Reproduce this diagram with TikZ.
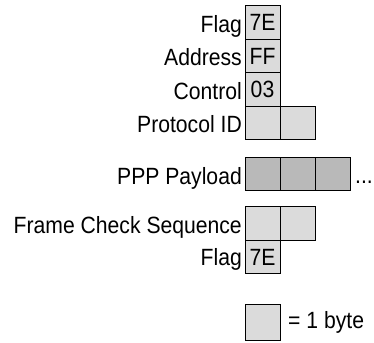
\documentclass[tikz,border=0pt]{standalone}
\usepackage{fontspec}
\setmainfont{Liberation Sans}[FakeStretch=0.9]
\usetikzlibrary{positioning}

\begin{document}
\begin{tikzpicture}[
    x=1pt, y=1pt,
    font=\fontsize{23.5}{26}\selectfont,
    byte/.style={draw, line width=1pt, fill=gray!28, minimum width=35pt, minimum height=33.5pt, inner sep=0pt, outer sep=0pt},
    paybyte/.style={byte, fill=gray!55},
    field/.style={anchor=base east, inner sep=0pt}
]
\useasboundingbox (0,0) rectangle (374,342);

% ===== Header bytes =====
\node[byte] (flag) at (262.5,319.25) {7E};
\node[byte, below=0pt of flag] (addr) {FF};
\node[byte, below=0pt of addr] (ctrl) {03};
\node[byte, below=0pt of ctrl] (pid1) {};
\node[byte, right=0pt of pid1] (pid2) {};

% ===== Payload =====
\node[paybyte] (pay1) at (262.5,168) {};
\node[paybyte, right=0pt of pay1] (pay2) {};
\node[paybyte, right=0pt of pay2] (pay3) {};
\node[anchor=base west, inner sep=0pt] (more) at ([shift={(5,7)}]pay3.south east) {...};

% ===== Trailer bytes =====
\node[byte] (fcs1) at (262.5,118.5) {};
\node[byte, right=0pt of fcs1] (fcs2) {};
\node[byte, below=0pt of fcs1] (endflag) {7E};

% ===== Field names =====
\node[field] (lflag) at ([shift={(-3,7)}]flag.south west) {Flag};
\node[field] (laddr) at ([shift={(-3,7)}]addr.south west) {Address};
\node[field] (lctrl) at ([shift={(-3,7)}]ctrl.south west) {Control};
\node[field] (lpid) at ([shift={(-3,7)}]pid1.south west) {Protocol ID};
\node[field] (lpay) at ([shift={(-3,6)}]pay1.south west) {PPP Payload};
\node[field] (lfcs) at ([shift={(-3,7)}]fcs1.south west) {Frame Check Sequence};
\node[field] (lend) at ([shift={(-3,8)}]endflag.south west) {Flag};

% ===== Legend =====
\node[byte, minimum height=36pt] (key) at (262.5,19.5) {};
\node[right=8pt of key, inner sep=0pt] (keytext) {= 1 byte};

\end{tikzpicture}
\end{document}
